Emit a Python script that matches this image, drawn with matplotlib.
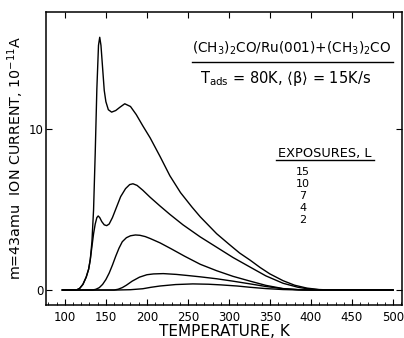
import matplotlib
matplotlib.use("Agg")
import matplotlib.pyplot as plt
from matplotlib.ticker import MultipleLocator
from matplotlib.lines import Line2D

# Thermal desorption spectra, m = 43 amu, for several acetone exposures
exposures = ["15", "10", "7", "4", "2"]

T_15 = [97, 114, 118, 122, 126, 129, 131, 133, 135, 137, 139, 141, 142.5, 144, 146,
        148, 150, 153, 157, 162, 167, 173, 180, 187, 195, 204, 216, 228, 241, 248,
        255, 265, 285, 300, 313, 326, 338, 350, 366, 380, 395, 410, 425, 500]
I_15 = [0, 0, 0.1, 0.35, 0.8, 1.3, 1.9, 3.0, 5.0, 8.5, 12.5, 15.2, 15.7, 15.2, 13.8,
        12.4, 11.7, 11.2, 11.05, 11.15, 11.35, 11.57, 11.4, 10.9, 10.2, 9.45, 8.3, 7.1, 6.05, 5.6,
        5.15, 4.55, 3.5, 2.85, 2.3, 1.85, 1.4, 1.0, 0.58, 0.3, 0.12, 0.03, 0, 0]

T_10 = [97, 114, 118, 122, 126, 129, 131, 133, 135, 137, 139, 140.6, 142.5, 145, 148,
        151, 154, 158, 163, 168, 174, 179, 183, 188, 195, 204, 216, 228, 244, 265,
        285, 305, 326, 345, 366, 385, 400, 415, 500]
I_10 = [0, 0, 0.1, 0.35, 0.8, 1.3, 1.9, 2.7, 3.5, 4.1, 4.5, 4.6, 4.5, 4.25, 4.05,
        4.0, 4.1, 4.5, 5.15, 5.8, 6.3, 6.55, 6.6, 6.5, 6.2, 5.76, 5.22, 4.7, 4.05, 3.3,
        2.66, 2.02, 1.42, 0.88, 0.42, 0.16, 0.05, 0, 0]

T_7 = [97, 134, 138, 142, 146, 150, 154, 158, 162, 166, 170, 175, 180, 186, 191.5,
       198, 204, 216, 230, 246, 265, 285, 305, 326, 345, 366, 385, 400, 500]
I_7 = [0, 0, 0.05, 0.15, 0.35, 0.65, 1.05, 1.55, 2.1, 2.6, 3.0, 3.25, 3.37, 3.42, 3.4,
       3.32, 3.2, 2.93, 2.55, 2.1, 1.6, 1.2, 0.85, 0.55, 0.29, 0.09, 0.02, 0, 0]

T_4 = [97, 160, 165, 170, 175, 182, 191, 200, 208, 220, 236, 250, 265, 285, 305,
       326, 345, 366, 385, 400, 500]
I_4 = [0, 0, 0.05, 0.15, 0.3, 0.55, 0.8, 0.95, 1.0, 1.02, 0.97, 0.9, 0.82, 0.7, 0.55,
       0.38, 0.22, 0.08, 0.02, 0, 0]

T_2 = [97, 163, 180, 195, 205, 216, 235, 256, 275, 290, 310, 326, 345, 366, 390, 500]
I_2 = [0, 0, 0.02, 0.08, 0.17, 0.25, 0.34, 0.38, 0.36, 0.32, 0.25, 0.17, 0.09, 0.03, 0, 0]

x_ticks = [100, 150, 200, 250, 300, 350, 400, 450, 500]
y_ticks = [0, 10]

plt.rcParams["font.family"] = ["DejaVu Sans"]
plt.rcParams["mathtext.default"] = "regular"

W, H = 404, 338
fig = plt.figure(figsize=(W / 100, H / 100), dpi=100)
ax = fig.add_axes([46 / W, 33 / H, 356 / W, 293 / H])

for T, I in [(T_15, I_15), (T_10, I_10), (T_7, I_7), (T_4, I_4), (T_2, I_2)]:
    ax.plot(T, I, color="black", lw=1.0, solid_joinstyle="round")

ax.set_xlim(77, 511)
ax.set_ylim(-0.93, 17.27)

ax.set_xticks(x_ticks)
ax.set_xticklabels([str(v) for v in x_ticks])
ax.xaxis.set_minor_locator(MultipleLocator(10))
ax.set_yticks(y_ticks)
ax.set_yticklabels(["0", "10"])

ax.tick_params(axis="x", which="major", direction="in", length=4, width=0.8,
               top=True, labelsize=8.5, pad=4)
ax.tick_params(axis="x", which="minor", direction="in", length=2, width=0.6, top=False)
ax.tick_params(axis="y", which="major", direction="in", length=4, width=0.8,
               right=True, labelsize=8.5, pad=2)
for s in ax.spines.values():
    s.set_linewidth(1.1)

ax.set_xlabel("TEMPERATURE, K", fontsize=11, labelpad=0)
ax.set_ylabel(r"m=43amu  ION CURRENT, 10$^{-11}$A", fontsize=10.3)
ax.yaxis.set_label_coords(-0.056, 0.5)


def fx(px):
    return px / W


def fy(py):
    return 1 - py / H


fig.text(fx(292), fy(48), r"(CH$_3$)$_2$CO/Ru(001)+(CH$_3$)$_2$CO",
         ha="center", va="center", fontsize=9.8)
fig.add_artist(Line2D([fx(192), fx(393)], [fy(62), fy(62)], color="black", lw=1.0,
                      transform=fig.transFigure))
fig.text(fx(286), fy(78), r"T$_{ads}$ = 80K, $\langle\beta\rangle$ = 15K/s",
         ha="center", va="center", fontsize=10.5)

fig.text(fx(325), fy(153), "EXPOSURES, L", ha="center", va="center", fontsize=9.3)
fig.add_artist(Line2D([fx(276), fx(374)], [fy(160), fy(160)], color="black", lw=1.0,
                      transform=fig.transFigure))
for lab, py in zip(exposures, [172, 184, 196, 208, 220]):
    fig.text(fx(303), fy(py), lab, ha="center", va="center", fontsize=8)

fig.savefig("out.png", dpi=100)
